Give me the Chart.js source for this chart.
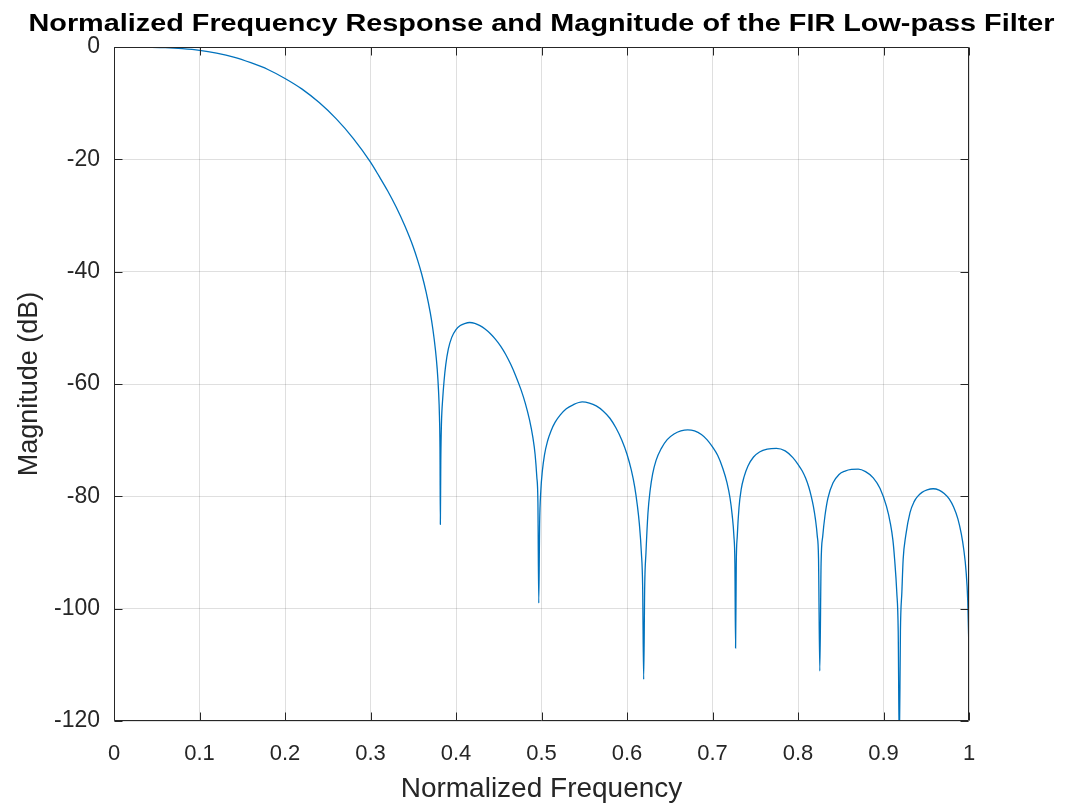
<!DOCTYPE html>
<html><head><meta charset="utf-8">
<script src="https://cdn.jsdelivr.net/npm/chart.js@4.4.1/dist/chart.umd.min.js"></script>
<style>html,body{margin:0;padding:0;background:#fff;overflow:hidden}canvas{display:block}</style>
</head><body>
<canvas id="c" width="1065" height="808"></canvas>
<script>
const chartTitle = "Normalized Frequency Response and Magnitude of the FIR Low-pass Filter";
const xAxisTitle = "Normalized Frequency";
const yAxisTitle = "Magnitude (dB)";
const xTickValues = [0, 0.1, 0.2, 0.3, 0.4, 0.5, 0.6, 0.7, 0.8, 0.9, 1];
const yTickValues = [0, -20, -40, -60, -80, -100, -120];

const frequency = [
  // main lobe
  0.000, 0.020, 0.040, 0.060, 0.080, 0.100, 0.120, 0.140, 0.160, 0.180,
  0.200, 0.220, 0.240, 0.260, 0.280, 0.300, 0.310, 0.320, 0.330, 0.340,
  0.350, 0.355, 0.360, 0.365, 0.370, 0.373, 0.376, 0.378, 0.3795, 0.3807,
  0.3813, 0.3817,
  // sidelobe 1
  0.3822, 0.383, 0.3845, 0.386, 0.388, 0.391, 0.395, 0.400, 0.405, 0.410,
  0.416, 0.422, 0.428, 0.434, 0.440, 0.446, 0.452, 0.458, 0.464, 0.470,
  0.476, 0.481, 0.486, 0.490, 0.4925, 0.4945, 0.4958, 0.4968,
  // sidelobe 2
  0.4978, 0.4992, 0.501, 0.5035, 0.507, 0.511, 0.516, 0.522, 0.529, 0.537,
  0.5476, 0.556, 0.564, 0.572, 0.580, 0.587, 0.594, 0.600, 0.605, 0.609,
  0.612, 0.6145, 0.6168, 0.6183, 0.6195,
  // sidelobe 3
  0.6207, 0.6222, 0.6245, 0.627, 0.630, 0.634, 0.640, 0.647, 0.655, 0.663,
  0.671, 0.679, 0.687, 0.6935, 0.700, 0.706, 0.712, 0.717, 0.7205, 0.723,
  0.725, 0.7262, 0.727,
  // sidelobe 4
  0.7278, 0.729, 0.731, 0.7335, 0.737, 0.7415, 0.748, 0.755, 0.764, 0.7747,
  0.785, 0.794, 0.800, 0.805, 0.809, 0.8125, 0.8155, 0.818, 0.8205, 0.8225,
  0.824, 0.8255,
  // sidelobe 5
  0.827, 0.829, 0.8315, 0.835, 0.841, 0.848, 0.855, 0.8625, 0.8705, 0.879,
  0.888, 0.896, 0.9035, 0.908, 0.911, 0.913, 0.9155, 0.9172, 0.9185,
  // sidelobe 6
  0.9198, 0.9215, 0.923, 0.926, 0.931, 0.936, 0.940, 0.945, 0.951, 0.958,
  0.965, 0.971, 0.977, 0.982, 0.987, 0.991, 0.994, 0.9965, 0.9985, 1.000
];
const magnitudeDb = [
  0.0, -0.01, -0.05, -0.12, -0.3, -0.6, -1.1, -1.8, -2.8, -4.0,
  -5.6, -7.5, -9.9, -12.8, -16.3, -20.5, -23.0, -25.6, -28.5, -31.8,
  -35.6, -37.9, -40.5, -43.6, -47.4, -50.3, -54.0, -57.3, -61.0, -66.0,
  -72.0, -85.0,
  -74.0, -67.0, -62.5, -59.5, -56.6, -53.8, -51.7, -50.3, -49.6, -49.25,
  -49.05, -49.2, -49.6, -50.2, -51.0, -52.0, -53.2, -54.7, -56.5, -58.6,
  -61.0, -63.4, -66.4, -69.6, -72.5, -76.5, -81.0, -99.0,
  -85.0, -79.0, -75.5, -72.6, -70.2, -68.4, -66.8, -65.5, -64.4, -63.7,
  -63.2, -63.4, -63.9, -64.8, -66.1, -67.8, -70.0, -72.5, -75.3, -78.3,
  -81.5, -85.0, -90.0, -96.0, -112.6,
  -96.0, -90.0, -83.0, -79.0, -76.0, -73.6, -71.5, -69.9, -68.9, -68.35,
  -68.15, -68.35, -69.0, -69.9, -71.2, -72.7, -75.0, -77.6, -80.3, -83.3,
  -87.0, -92.0, -107.0,
  -92.0, -87.0, -82.0, -78.8, -76.5, -74.6, -73.0, -72.1, -71.6, -71.45,
  -71.9, -73.1, -74.3, -75.5, -76.8, -78.3, -80.0, -81.8, -84.2, -87.0,
  -91.0, -111.1,
  -92.0, -87.0, -83.5, -80.3, -77.6, -76.1, -75.5, -75.2, -75.15, -75.6,
  -76.7, -78.6, -81.8, -84.8, -87.8, -91.2, -97.0, -104.0, -125.0,
  -104.0, -97.0, -91.2, -87.0, -82.9, -80.9, -80.0, -79.3, -78.85, -78.65,
  -78.9, -79.5, -80.5, -81.9, -84.0, -86.7, -89.6, -93.2, -98.5, -107.9
];

const FONT = '"Liberation Sans", Arial, Helvetica, sans-serif';
const AXIS_COLOR = '#262626';
const GRID_COLOR = 'rgba(38,38,38,0.15)';

const framePlugin = {
  id: 'frame',
  afterDraw(chart) {
    const {ctx, chartArea: a, scales: {x, y}} = chart;
    const L = Math.round(a.left) + 0.5, R = Math.round(a.right) - 0.5;
    const T = Math.round(a.top) + 0.5, B = Math.round(a.bottom) - 0.5;
    const tl = 8;
    ctx.save();
    ctx.strokeStyle = AXIS_COLOR;
    ctx.lineWidth = 1;
    ctx.beginPath();
    ctx.rect(L, T, R - L, B - T);
    xTickValues.forEach(v => {
      const p = Math.round(x.getPixelForValue(v)) + 0.5;
      ctx.moveTo(p, B); ctx.lineTo(p, B - tl);
      ctx.moveTo(p, T); ctx.lineTo(p, T + tl);
    });
    yTickValues.forEach(v => {
      const p = Math.round(y.getPixelForValue(v)) + 0.5;
      ctx.moveTo(L, p); ctx.lineTo(L + tl, p);
      ctx.moveTo(R, p); ctx.lineTo(R - tl, p);
    });
    ctx.stroke();

    // title, stretched horizontally like the reference
    ctx.font = 'bold 23px ' + FONT;
    ctx.fillStyle = '#000';
    ctx.textAlign = 'center';
    ctx.textBaseline = 'alphabetic';
    const w = ctx.measureText(chartTitle).width;
    const targetW = 1026;
    ctx.translate((a.left + a.right) / 2, 31);
    ctx.scale(targetW / w, 1);
    ctx.fillText(chartTitle, 0, 0);
    ctx.restore();
  }
};

new Chart(document.getElementById('c'), {
  type: 'line',
  data: {
    datasets: [{
      data: frequency.map((f, i) => ({x: f, y: magnitudeDb[i]})),
      borderColor: '#0072BD',
      borderWidth: 1.3,
      pointRadius: 0,
      fill: false,
      cubicInterpolationMode: 'monotone'
    }]
  },
  options: {
    responsive: false,
    animation: false,
    devicePixelRatio: 1,
    layout: {padding: {left: 0, right: 96, top: 47, bottom: 0}},
    plugins: {legend: {display: false}, tooltip: {enabled: false}, title: {display: false}},
    scales: {
      x: {
        type: 'linear', min: 0, max: 1,
        afterBuildTicks(s) { s.ticks = xTickValues.map(v => ({value: v})); },
        afterFit(s) { s.height = 87; },
        ticks: {callback: v => String(v), font: {family: FONT, size: 22}, color: AXIS_COLOR, padding: 20, maxRotation: 0, autoSkip: false},
        grid: {color: GRID_COLOR, drawTicks: false, lineWidth: 1},
        border: {display: false},
        title: {display: true, text: xAxisTitle, font: {family: FONT, size: 28}, color: AXIS_COLOR, padding: {top: 0, bottom: 2}}
      },
      y: {
        type: 'linear', min: -120, max: 0,
        afterBuildTicks(s) { s.ticks = yTickValues.map(v => ({value: v})); },
        afterFit(s) { s.width = 114; },
        ticks: {callback: v => String(v), font: {family: FONT, size: 23}, color: AXIS_COLOR, padding: 14, autoSkip: false},
        grid: {color: GRID_COLOR, drawTicks: false, lineWidth: 1},
        border: {display: false},
        title: {display: true, text: yAxisTitle, font: {family: FONT, size: 27}, color: AXIS_COLOR, padding: {top: 13, bottom: 0}}
      }
    }
  },
  plugins: [framePlugin]
});
</script>
</body></html>
